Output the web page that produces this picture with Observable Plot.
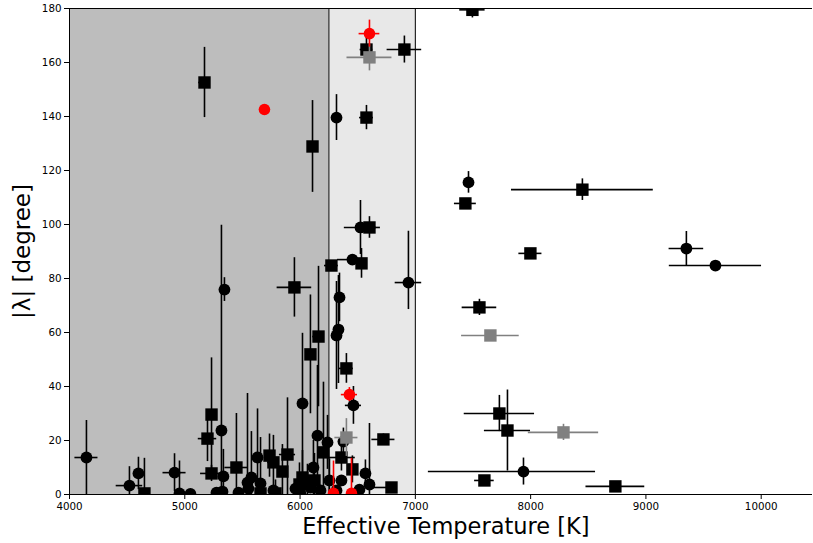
<!DOCTYPE html>
<html>
<head>
<meta charset="utf-8">
<script src="https://cdn.jsdelivr.net/npm/d3@7"></script>
<script src="https://cdn.jsdelivr.net/npm/@observablehq/plot@0.6"></script>
<style>
  html, body { margin: 0; padding: 0; background: #ffffff; }
  svg { font-family: "DejaVu Sans", sans-serif; }
</style>
</head>
<body>
<div id="chart"></div>
<script>
// ---- axis set-up ----
const xDomain = [4000, 10445];
const yDomain = [0, 180];
const xTicks = [4000, 5000, 6000, 7000, 8000, 9000, 10000];
const yTicks = [0, 20, 40, 60, 80, 100, 120, 140, 160, 180];
const xLabel = "Effective Temperature [K]";
const yLabel = "|λ| [degree]";

// shaded temperature zones
const zoneStarts = [4000, 6250];
const zoneEnds = [6250, 7000];
const zoneFills = ["#bdbdbd", "#e8e8e8"];
const zoneEdges = [6250, 7000];

// ---- data: [Teff, |lambda|, dTeff, d|lambda|]  (d may be [minus, plus]) ----
const circles = [
  [7461, 115.6, 0, 4],
  [9351, 91.1, 150, 6.3],
  [9603, 84.8, 400, 0],
  [6940, 78.5, 115, [10, 19]],
  [7938, 8.5, [825, 625], 5],
  [6316, 139.6, 0, 8.5],
  [6524, 98.9, 140, 10],
  [6454, 87.0, 130, 0],
  [6342, 73.0, 0, 9],
  [6333, 61.1, 0, 20],
  [6316, 58.9, 30, 20],
  [6463, 33.0, 70, 7],
  [5344, 75.9, 30, 4.4],
  [5318, 23.7, 0, 76],
  [6021, 33.7, 0, 26],
  [4147, 13.7, 100, 13.7],
  [4520, 3.3, 115, 7],
  [4598, 7.8, 0, 6],
  [4911, 8.1, 100, 7],
  [4954, 0.4, 0, 12],
  [5049, 0.2, 0, 0],
  [5335, 6.7, 0, 10],
  [5327, 1.1, 0, 0],
  [5275, 0.7, 0, 0],
  [5631, 13.7, 0, 18],
  [5544, 4.4, 0, 33],
  [5578, 6.3, 0, 17],
  [5657, 4.1, 0, 17],
  [5552, 2.2, 0, 0],
  [5466, 0.7, 0, 0],
  [5769, 1.5, 0, 0],
  [6151, 21.8, 0, 26],
  [6238, 19.3, 0, 10],
  [6376, 19.6, 0, 5],
  [6567, 7.8, 0, 5],
  [6602, 3.7, 0, 22.6],
  [6515, 1.8, 0, 0],
  [6255, 5.2, 0, 8],
  [6064, 5.2, 0, 6],
  [6116, 10.0, 0, 10],
  [6090, 2.6, 0, 0],
  [5960, 2.2, 0, 0],
  [6003, 0.4, 0, 0],
  [6177, 1.5, 0, 0],
  [6316, 1.5, 0, 0],
  [6359, 5.2, 0, 0]
];

const squares = [
  [7495, 179.5, 110, 3],
  [6905, 164.8, 150, 5],
  [6576, 164.8, 55, 5],
  [6576, 139.6, 60, 4.5],
  [6108, 128.9, 0, 17],
  [5171, 152.6, 50, 13],
  [7434, 107.8, 95, 1.5],
  [8449, 112.9, 615, 4],
  [7998, 89.3, 100, 1.5],
  [6602, 98.9, 95, 4],
  [6272, 84.8, 60, 0],
  [6533, 85.6, 0, 5.5],
  [5951, 76.7, 150, 11],
  [6160, 58.5, 50, 26],
  [6090, 51.9, 40, 22],
  [6402, 46.7, 60, 5.5],
  [7556, 69.3, 150, 3],
  [7729, 30.0, 305, 6.7],
  [7799, 23.7, 200, 15],
  [7599, 5.2, 85, 0],
  [8735, 3.0, 255, 0],
  [6723, 20.4, 100, 2],
  [6793, 2.6, [190, 20], 0],
  [5232, 29.6, 30, 21],
  [5197, 20.7, 80, 8.5],
  [5232, 7.8, 95, 3],
  [5448, 10.0, 100, 20],
  [5735, 14.4, 40, 8],
  [5769, 11.9, 50, 10],
  [5847, 8.5, 40, 10],
  [5891, 14.8, 70, 21],
  [6359, 13.7, 120, 5],
  [6203, 15.6, 40, 26],
  [6454, 9.3, 40, 5],
  [4650, 0.4, 0, 13],
  [5995, 3.7, 40, 8],
  [6021, 6.3, 40, 10],
  [5787, 0.4, 40, 5],
  [5657, 0.4, 30, 5],
  [6125, 5.2, 50, 10]
];

const graySquares = [
  [6602, 161.9, 195, 5],
  [7651, 58.9, 250, 0],
  [8285, 23.0, 305, 3],
  [6402, 21.1, 100, 7]
];

const redCircles = [
  [6602, 170.7, 90, 5],
  [5691, 142.6, 0, 0],
  [6428, 37.0, 70, 2.6],
  [6290, 0.4, 0, 12],
  [6446, 0.4, 0, 13]
];

// ---- helpers ----
const lo = (d) => Array.isArray(d) ? d[0] : d;
const hi = (d) => Array.isArray(d) ? d[1] : d;
const toRows = (arr) => arr.map(([t, l, dt, dl]) => ({
  t, l, t1: t - lo(dt), t2: t + hi(dt), l1: l - lo(dl), l2: l + hi(dl),
  hasT: lo(dt) + hi(dt) > 0, hasL: lo(dl) + hi(dl) > 0
}));

function series(arr, color, symbol, r) {
  const rows = toRows(arr);
  return [
    Plot.ruleY(rows.filter(d => d.hasT), {y: "l", x1: "t1", x2: "t2", stroke: color, strokeWidth: 1.6, clip: true}),
    Plot.ruleX(rows.filter(d => d.hasL), {x: "t", y1: "l1", y2: "l2", stroke: color, strokeWidth: 1.6, clip: true}),
    Plot.dot(rows, {x: "t", y: "l", symbol, r, fill: color, stroke: "none", clip: true})
  ];
}

const zones = zoneStarts.map((s, i) => ({x1: s, x2: zoneEnds[i], y1: yDomain[0], y2: yDomain[1], fill: zoneFills[i]}));

const chart = Plot.plot({
  width: 813,
  height: 543,
  marginLeft: 69,
  marginRight: 1,
  marginTop: 8,
  marginBottom: 49,
  style: {fontFamily: "DejaVu Sans", background: "#ffffff", color: "#000000"},
  x: {domain: xDomain, label: null},
  y: {domain: yDomain, label: null},
  marks: [
    Plot.rect(zones, {x1: "x1", x2: "x2", y1: "y1", y2: "y2", fill: "fill"}),
    Plot.ruleX(zoneEdges, {stroke: "#111111", strokeWidth: 1.1}),
    ...series(circles, "#000000", "circle", 5.9),
    ...series(squares, "#000000", "square", 7),
    ...series(graySquares, "#808080", "square", 7),
    ...series(redCircles, "#ff0000", "circle", 5.8),
    Plot.ruleY([yDomain[0]], {stroke: "#000000", strokeWidth: 1}),
    Plot.ruleY([yDomain[1]], {stroke: "#000000", strokeWidth: 1}),
    Plot.ruleX([xDomain[0]], {stroke: "#000000", strokeWidth: 1}),
    Plot.axisX({ticks: xTicks, tickSize: 5, tickPadding: 3, fontSize: 10.3, label: null, tickFormat: d => String(d)}),
    Plot.axisY({ticks: yTicks, tickSize: 5, tickPadding: 3, fontSize: 10.3, label: null, tickFormat: d => String(d)}),
    Plot.text([xLabel], {text: d => d, frameAnchor: "bottom", textAnchor: "middle", lineAnchor: "middle", dx: 5, dy: 32, fontSize: 22.5}),
    Plot.text([yLabel], {text: d => d, frameAnchor: "left", textAnchor: "middle", lineAnchor: "middle", rotate: -90, dx: -47, fontSize: 23})
  ]
});

document.getElementById("chart").appendChild(chart);
</script>
</body>
</html>
